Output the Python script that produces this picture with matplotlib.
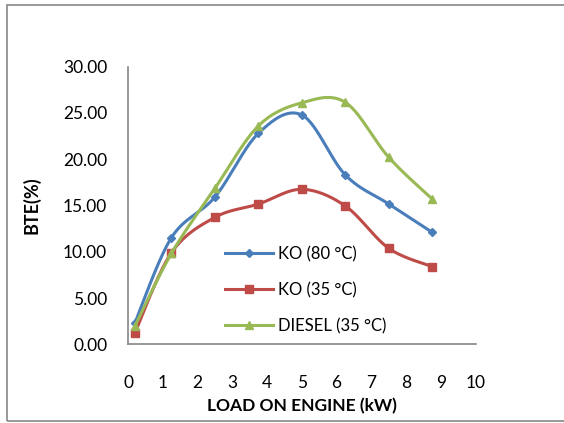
import matplotlib
import matplotlib.pyplot as plt
import numpy as np
from matplotlib.patches import Rectangle

matplotlib.use('Agg')

load = [0.2, 1.25, 2.5, 3.75, 5.0, 6.25, 7.5, 8.75]
ko_80 = [2.33, 11.53, 15.92, 22.80, 24.78, 18.30, 15.16, 12.10]
ko_35 = [1.25, 9.90, 13.72, 15.16, 16.75, 14.95, 10.37, 8.39]
diesel = [1.98, 9.83, 16.86, 23.60, 26.10, 26.15, 20.20, 15.70]

series = [
    ("KO (80 °C)", ko_80, "#4A7EBB", "D", 4),
    ("KO (35 °C)", ko_35, "#BE4B48", "s", 6),
    ("DIESEL (35 °C)", diesel, "#98B954", "^", 6),
]


def smooth(x, y, n=30):
    # excel style smoothing: bezier segments through every point
    p = np.column_stack([x, y]).astype(float)
    pts = np.vstack([p[0], p, p[-1]])
    out = []
    t = np.linspace(0, 1, n)[:, None]
    for i in range(len(p) - 1):
        p0, p1, p2, p3 = pts[i], pts[i + 1], pts[i + 2], pts[i + 3]
        c1 = p1 + (p2 - p0) / 6
        c2 = p2 - (p3 - p1) / 6
        seg = ((1 - t) ** 3) * p1 + 3 * ((1 - t) ** 2) * t * c1 \
            + 3 * (1 - t) * t ** 2 * c2 + t ** 3 * p2
        out.append(seg if i == 0 else seg[1:])
    out = np.vstack(out)
    return out[:, 0], out[:, 1]


plt.rcParams['font.family'] = ['Lato', 'DejaVu Sans']

fig = plt.figure(figsize=(5.64, 4.23), dpi=100)
fig.patches.append(Rectangle((7 / 564, 2 / 423), 1.2, 1 - 7 / 423,
                             transform=fig.transFigure, fill=False,
                             edgecolor="#868686", lw=1.2))
ax = fig.add_axes([128 / 564, 1 - 344.3 / 423, 347.7 / 564, 277.6 / 423])

for name, vals, col, mk, ms in series:
    sx, sy = smooth(load, vals)
    ax.plot(sx, sy, color=col, lw=2.2, solid_capstyle='round')
    ax.plot(load, vals, ls='none', marker=mk, ms=ms, color=col,
            markeredgecolor=col)

# legend handles only
handles = [ax.plot([], [], color=col, lw=2.2, marker=mk, ms=ms)[0]
           for _, _, col, mk, ms in series]

ax.set_xlim(0, 10)
ax.set_ylim(0, 30)
ax.set_xticks(range(0, 11))
ax.set_yticks(np.arange(0, 31, 5))
ax.set_yticklabels([f"{v:.2f}" for v in np.arange(0, 31, 5)])
ax.tick_params(length=0, labelsize=12.5)
ax.tick_params(axis='y', pad=15)
ax.tick_params(axis='x', pad=22)
for s in ['top', 'right']:
    ax.spines[s].set_visible(False)
for s in ['left', 'bottom']:
    ax.spines[s].set_color("#868686")
    ax.spines[s].set_linewidth(1.2)

ax.set_xlabel("LOAD ON ENGINE (kW)", fontsize=12.5, fontweight='bold', labelpad=5)
ax.set_ylabel("BTE(%)", fontsize=13, fontweight='bold', labelpad=16)

ax.legend(handles, [s[0] for s in series], loc='center left', frameon=False,
          bbox_to_anchor=(225 / 564, 1 - 290 / 423),
          bbox_transform=fig.transFigure, fontsize=12, borderpad=0,
          borderaxespad=0, handlelength=2.9, handletextpad=0.3,
          labelspacing=1.2)

plt.savefig("out.png", dpi=100)
